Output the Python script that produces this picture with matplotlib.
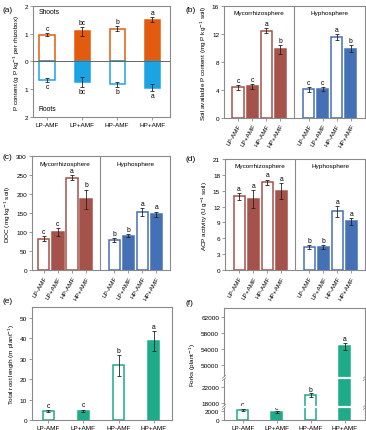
import numpy as np
import matplotlib
matplotlib.use("Agg")
import matplotlib.pyplot as plt

# ---- data ----
treat = ["LP-AMF", "LP+AMF", "HP-AMF", "HP+AMF"]

shoot_p = [0.97, 1.08, 1.17, 1.51]
shoot_err = [0.05, 0.17, 0.09, 0.10]
shoot_let = ["c", "bc", "b", "a"]
root_p = [0.67, 0.72, 0.82, 0.94]
root_err = [0.06, 0.18, 0.08, 0.12]
root_let = ["c", "bc", "b", "a"]

avp_myc = [4.36, 4.50, 12.46, 9.80]
avp_myc_err = [0.30, 0.30, 0.35, 0.60]
avp_hyp = [4.12, 4.12, 11.55, 9.85]
avp_hyp_err = [0.35, 0.30, 0.40, 0.50]
avp_let_myc = ["c", "c", "a", "b"]
avp_let_hyp = ["c", "c", "a", "b"]

doc_myc = [83, 100, 243, 186]
doc_myc_err = [6, 11, 6, 26]
doc_hyp = [79, 91, 153, 147]
doc_hyp_err = [5, 4, 10, 7]
doc_let_myc = ["c", "c", "a", "b"]
doc_let_hyp = ["b", "b", "a", "a"]

acp_myc = [13.9, 13.5, 16.6, 14.9]
acp_myc_err = [0.6, 1.7, 0.5, 1.5]
acp_hyp = [4.37, 4.37, 11.1, 9.2]
acp_hyp_err = [0.3, 0.3, 1.0, 0.7]
acp_let_myc = ["a", "a", "a", "a"]
acp_let_hyp = ["b", "b", "a", "a"]

root_len = [4.4, 4.4, 26.8, 38.7]
root_len_err = [0.6, 0.7, 5.0, 5.0]
root_len_let = ["c", "c", "b", "a"]

forks = [2200, 1700, 20000, 54700]
forks_err = [300, 250, 400, 900]
forks_let = ["c", "c", "b", "a"]

# ---- style ----
ORANGE = "#E35B0E"
SKY = "#1CA3E3"
BROWN = "#A5524A"
BLUE = "#4470B5"
GREEN = "#1DAB88"
GREY = "#8a8a8a"
FS = 4.6

plt.rcParams["font.family"] = ["Liberation Sans", "DejaVu Sans"]
plt.rcParams["font.size"] = FS

fig = plt.figure(figsize=(3.66, 4.31), dpi=100)


def style_ax(ax):
    for s in ax.spines.values():
        s.set_color(GREY)
        s.set_linewidth(0.8)
    ax.tick_params(direction="out", length=2, width=0.6, color=GREY,
                   labelsize=FS, pad=1.5)


def draw_bars(ax, xs, vals, errs, color, width, letters, down=False):
    sign = -1 if down else 1
    for i, (x, v, e) in enumerate(zip(xs, vals, errs)):
        filled = i % 2 == 1
        ax.bar(x, sign * v, width, color=color if filled else "white",
               edgecolor=color, linewidth=1.1, zorder=2)
        ax.errorbar(x, sign * v, yerr=e, color="#222222", elinewidth=0.6,
                    capsize=1.2, capthick=0.6, zorder=3)
        if letters is not None:
            va = "top" if down else "bottom"
            ax.text(x, sign * (v + e) + sign * 0.01 * np.diff(ax.get_ylim())[0],
                    letters[i], ha="center", va=va, fontsize=FS + 0.3)


def split_panel(ax, myc, myc_err, hyp, hyp_err, let_m, let_h, ymax, ticks,
                ylabel, xl):
    ax.set_ylim(0, ymax)
    ax.set_xlim(*xl)
    xs1 = np.arange(4)
    xs2 = np.arange(4) + 5
    draw_bars(ax, xs1, myc, myc_err, BROWN, 0.8, let_m)
    draw_bars(ax, xs2, hyp, hyp_err, BLUE, 0.8, let_h)
    ax.axvline(4, color=GREY, lw=0.8)
    ax.text(1.5, ymax * 0.96, "Mycorrhizosphere", ha="center", va="top",
            fontsize=FS)
    ax.text(6.5, ymax * 0.96, "Hyphosphere", ha="center", va="top",
            fontsize=FS)
    ax.set_yticks(ticks)
    ax.set_xticks(list(xs1) + list(xs2))
    ax.set_xticklabels(treat + treat, rotation=60, ha="right",
                       rotation_mode="anchor", fontsize=3.6)
    ax.set_ylabel(ylabel, fontsize=FS, labelpad=2)
    style_ax(ax)


# (a)
ax = fig.add_axes([0.090, 0.726, 0.374, 0.258])
ax.set_ylim(-2, 2)
ax.set_xlim(-0.4, 3.5)
xs = np.arange(4)
draw_bars(ax, xs, shoot_p, shoot_err, ORANGE, 0.43, shoot_let)
draw_bars(ax, xs, root_p, root_err, SKY, 0.43, root_let, down=True)
ax.axhline(0, color="#666666", lw=0.7, zorder=4)
ax.set_yticks([-2, -1, 0, 1, 2])
ax.set_yticklabels(["2", "1", "0", "1", "2"])
ax.set_xticks(xs)
ax.set_xticklabels(treat)
ax.text(-0.25, 1.8, "Shoots", ha="left", va="center", fontsize=FS + 0.3)
ax.text(-0.25, -1.7, "Roots", ha="left", va="center", fontsize=FS + 0.3)
ax.set_ylabel("P content (g P kg$^{-1}$ per rhizobox)", fontsize=FS,
              labelpad=2)
style_ax(ax)

# (b)
ax = fig.add_axes([0.612, 0.724, 0.385, 0.260])
split_panel(ax, avp_myc, avp_myc_err, avp_hyp, avp_hyp_err, avp_let_myc,
            avp_let_hyp, 16, [0, 4, 8, 12, 16],
            "Soil available P content (mg P kg$^{-1}$ soil)", (-1.0, 9.0))

# (c)
ax = fig.add_axes([0.087, 0.371, 0.377, 0.2645])
split_panel(ax, doc_myc, doc_myc_err, doc_hyp, doc_hyp_err, doc_let_myc,
            doc_let_hyp, 300, [0, 50, 100, 150, 200, 250, 300],
            "DOC (mg kg$^{-1}$ soil)", (-0.85, 8.95))

# (d)
ax = fig.add_axes([0.615, 0.371, 0.383, 0.258])
split_panel(ax, acp_myc, acp_myc_err, acp_hyp, acp_hyp_err, acp_let_myc,
            acp_let_hyp, 21, [0, 3, 6, 9, 12, 15, 18, 21],
            "ACP activity (U g$^{-1}$ soil)", (-1.0, 9.0))

# (e)
ax = fig.add_axes([0.087, 0.0232, 0.3825, 0.262])
ax.set_ylim(0, 55.4)
ax.set_xlim(-0.47, 3.52)
draw_bars(ax, xs, root_len, root_len_err, GREEN, 0.3, root_len_let)
ax.set_yticks([0, 10, 20, 30, 40, 50])
ax.set_xticks(xs)
ax.set_xticklabels(treat)
ax.set_ylabel("Total root length (m plant$^{-1}$)", fontsize=FS, labelpad=2)
style_ax(ax)

# (f) broken axis via piecewise scale
brk_x = [0, 2900, 17000, 24250, 46750, 64250]
brk_y = [0, 3250, 3250.01, 10500, 10500.01, 28000]


def fwd(v):
    return np.interp(v, brk_x, brk_y)


def inv(v):
    return np.interp(v, brk_y, brk_x)


ax = fig.add_axes([0.612, 0.0232, 0.385, 0.260])
ax.set_yscale("function", functions=(fwd, inv))
ax.set_ylim(0, 64250)
ax.set_xlim(-0.55, 3.59)
draw_bars(ax, xs, forks, forks_err, GREEN, 0.32, None)
for x, v, e, l in zip(xs, forks, forks_err, forks_let):
    ax.text(x, v + e + 150, l, ha="center", va="bottom", fontsize=FS + 0.3)
ax.set_yticks([0, 2000, 18000, 22000, 50000, 54000, 58000, 62000])
ax.set_xticks(xs)
ax.set_xticklabels(treat)
ax.set_ylabel("Forks (plant$^{-1}$)", fontsize=FS, labelpad=2)
for yb in [2950, 24250]:
    ax.axhline(yb, color="white", lw=1.6, zorder=3.5)
    for xa in [0, 1]:
        tr = ax.get_yaxis_transform()
        yd = fwd(yb)
        for dy in (-300, 300):
            ax.plot([xa - 0.012, xa + 0.012],
                    [inv(yd + dy - 350), inv(yd + dy + 350)],
                    color=GREY, lw=0.5, transform=tr, clip_on=False,
                    zorder=5)
style_ax(ax)

# panel labels
for lab, x, y in [("(a)", 0.008, 0.975), ("(b)", 0.508, 0.975),
                  ("(c)", 0.008, 0.635), ("(d)", 0.508, 0.630),
                  ("(e)", 0.008, 0.300), ("(f)", 0.508, 0.296)]:
    fig.text(x, y, lab, fontsize=6, ha="left", va="center")

fig.savefig("out.png", dpi=100)
